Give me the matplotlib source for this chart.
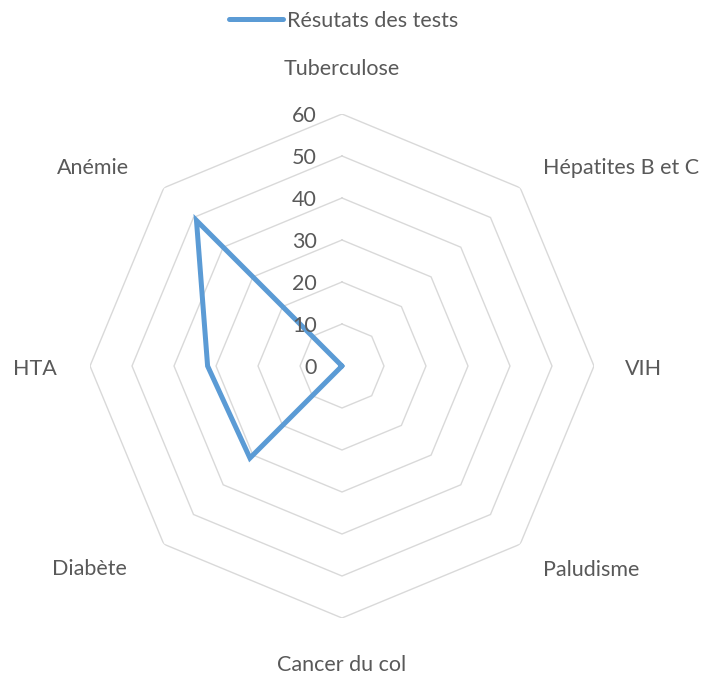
import numpy as np
import matplotlib
matplotlib.use("Agg")
import matplotlib.pyplot as plt
from matplotlib.lines import Line2D

# ---- data ----
categories = ["Tuberculose", "Hépatites B et C", "VIH", "Paludisme",
              "Cancer du col", "Diabète", "HTA", "Anémie"]
values = [0, 0, 0, 0, 0, 31, 32, 49]
series_name = "Résutats des tests"
ring_levels = [0, 10, 20, 30, 40, 50, 60]

# ---- style ----
W, H, DPI = 702, 677, 100
LINE_COLOR = "#5B9BD5"
GRID_COLOR = "#D9D9D9"
TEXT_COLOR = "#595959"
FONT = ["Lato", "DejaVu Sans"]
FS = 15.5

plt.rcParams["font.family"] = FONT

fig = plt.figure(figsize=(W / DPI, H / DPI), dpi=DPI)
cx, cy, R = 342, 366, 252
ax = fig.add_axes([(cx - R) / W, (H - cy - R) / H, 2 * R / W, 2 * R / H],
                  projection="polar")
ax.set_theta_zero_location("N")
ax.set_theta_direction(-1)
ax.set_ylim(0, 60)
ax.grid(False)
ax.set_xticks([])
ax.set_yticks([])
ax.spines["polar"].set_visible(False)
ax.patch.set_visible(False)

n = len(categories)
angles = np.linspace(0, 2 * np.pi, n, endpoint=False)
closed_angles = np.concatenate([angles, angles[:1]])

# octagon rings
for lv in ring_levels[1:]:
    ax.plot(closed_angles, [lv] * (n + 1), color=GRID_COLOR, lw=1.0,
            solid_joinstyle="miter", zorder=1)

# series
vals = np.array(values, dtype=float)
ax.plot(closed_angles, np.concatenate([vals, vals[:1]]), color=LINE_COLOR,
        lw=3.6, solid_joinstyle="miter", solid_capstyle="round", zorder=3)

# value-axis labels
for lv in ring_levels:
    ax.annotate(str(lv), xy=(0, lv), xytext=(-25, -2),
                textcoords="offset pixels", ha="right", va="center",
                fontsize=FS, color=TEXT_COLOR, annotation_clip=False)

# category labels (offsets in pixels from the outer vertex)
label_layout = [
    ((0, 45), "center"),
    ((23, 20), "left"),
    ((31, -3), "left"),
    ((23, -26), "left"),
    ((0, -47), "center"),
    ((-37, -25), "right"),
    ((-33, -3), "right"),
    ((-35, 20), "right"),
]
for ang, cat, (off, ha) in zip(angles, categories, label_layout):
    ax.annotate(cat, xy=(ang, 60), xytext=off, textcoords="offset pixels",
                ha=ha, va="center", fontsize=FS, color=TEXT_COLOR,
                annotation_clip=False)

# legend
handle = Line2D([], [], color=LINE_COLOR, lw=3.6, solid_capstyle="round")
leg = fig.legend([handle], [series_name], loc="center",
                 bbox_to_anchor=(344 / W, 1 - 21 / H), frameon=False,
                 fontsize=FS, handlelength=2.5, handletextpad=0.2,
                 borderpad=0, borderaxespad=0)
for t in leg.get_texts():
    t.set_color(TEXT_COLOR)

fig.savefig("out.png", dpi=DPI)
